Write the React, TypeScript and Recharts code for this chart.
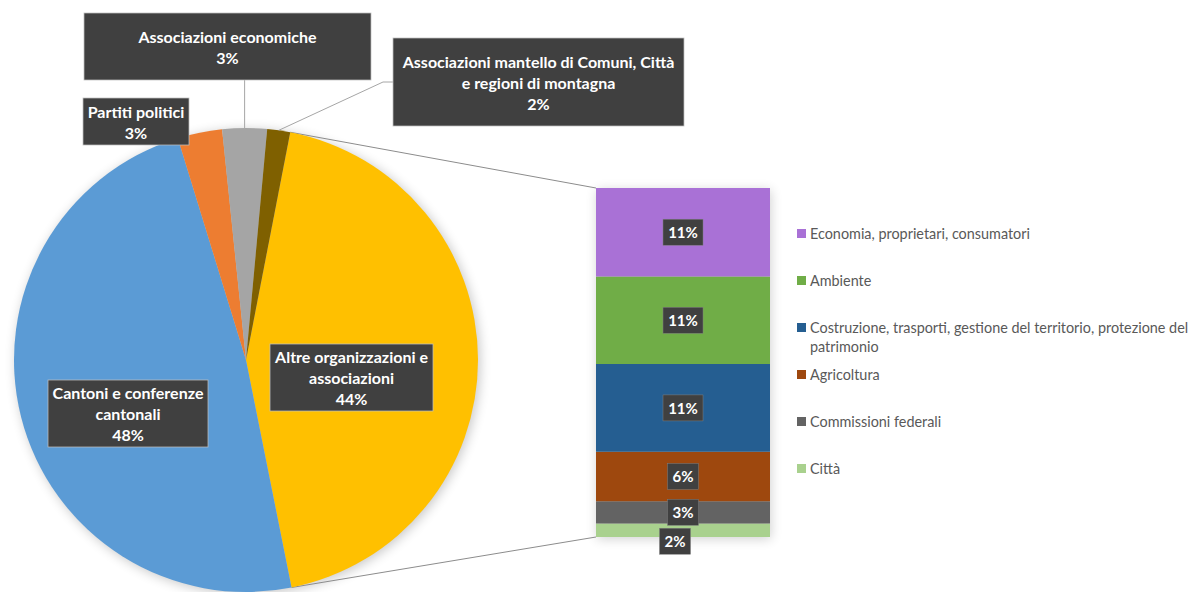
import React from 'react';
import { PieChart, Pie, Cell, BarChart, Bar, XAxis, YAxis, LabelList, Legend } from 'recharts';

// ---------- data ----------
const pieNames = [
  'Altre organizzazioni e associazioni',
  'Cantoni e conferenze cantonali',
  'Partiti politici',
  'Associazioni economiche',
  'Associazioni mantello di Comuni, Città e regioni di montagna',
];
const pieLabelLines = [
  ['Altre organizzazioni e', 'associazioni'],
  ['Cantoni e conferenze', 'cantonali'],
  ['Partiti politici'],
  ['Associazioni economiche'],
  ['Associazioni mantello di Comuni, Città', 'e regioni di montagna'],
];
const pieValues = [43.8, 48.4, 3.1, 3.1, 1.6];
const pieColors = ['#FFC000', '#5B9BD5', '#ED7D31', '#A5A5A5', '#7F6000'];

const barNames = [
  'Economia, proprietari, consumatori',
  'Ambiente',
  'Costruzione, trasporti, gestione del territorio, protezione del patrimonio',
  'Agricoltura',
  'Commissioni federali',
  'Città',
];
const barValues = [11.1, 11.0, 11.0, 6.2, 2.8, 1.7];
const barColors = ['#A971D6', '#70AD47', '#255E91', '#9E480E', '#636363', '#A9D18E'];

// ---------- layout ----------
const W = 1189;
const H = 592;
const PIE_CX = 246;
const PIE_CY = 360;
const PIE_R = 232;
const START = 79; // degrees, counter-clockwise from 3 o'clock
const BAR_LEFT = 596;
const BAR_TOP = 188;
const BAR_W = 174;
const BAR_H = 349;
const BAR_EXTRA = 30;
const FONT = 'Lato, "Open Sans", sans-serif';

// label boxes relative to the pie centre
const pieLabelBoxes = [
  { dx: 24, dy: -16, w: 163, h: 67, leader: 'none' },
  { dx: -198, dy: 20, w: 160, h: 67, leader: 'none' },
  { dx: -163, dy: -262, w: 106, h: 47, leader: 'none' },
  { dx: -162, dy: -347, w: 287, h: 67, leader: 'up' },
  { dx: 147, dy: -322, w: 291, h: 88, leader: 'left' },
];

const pieData = pieNames.map((name, i) => ({ name, value: pieValues[i] }));
const barRow: Record<string, any> = { name: 'Altre' };
barNames.forEach((n, i) => {
  barRow['s' + i] = barValues[i];
});
const barData = [barRow];
const barTotal = barValues.reduce((a, b) => a + b, 0);
const pieTotal = pieValues.reduce((a, b) => a + b, 0);

const RAD = Math.PI / 180;

const renderPieLabel = (props: any) => {
  const { cx, cy, midAngle, outerRadius, index, percent } = props;
  const box = pieLabelBoxes[index];
  const x = cx + box.dx;
  const y = cy + box.dy;
  const lines = [...pieLabelLines[index], `${Math.round(percent * 100)}%`];
  const lh = 21;
  const midY = y + box.h / 2;
  const startY = midY - ((lines.length - 1) * lh) / 2;
  const px = cx + outerRadius * Math.cos(-midAngle * RAD);
  const py = cy + outerRadius * Math.sin(-midAngle * RAD);
  let leader: any = null;
  if (box.leader === 'up') {
    leader = <polyline points={`${px},${py} ${px},${y + box.h}`} fill="none" stroke="#A6A6A6" strokeWidth={1} />;
  } else if (box.leader === 'left') {
    leader = (
      <polyline points={`${px},${py} ${x - 10},${midY} ${x},${midY}`} fill="none" stroke="#A6A6A6" strokeWidth={1} />
    );
  }
  return (
    <g key={'lab' + index}>
      {leader}
      <rect x={x} y={y} width={box.w} height={box.h} fill="#404040" stroke="#BFBFBF" strokeWidth={0.75} />
      {lines.map((t, i) => (
        <text
          key={i}
          x={x + box.w / 2}
          y={startY + i * lh}
          textAnchor="middle"
          dominantBaseline="central"
          fill="#FFFFFF"
          fontFamily={FONT}
          fontWeight="bold"
          fontSize={16}
        >
          {t}
        </text>
      ))}
    </g>
  );
};

const makeBarLabel = (idx: number) => (props: any) => {
  const { x, y, width, height, value } = props;
  const txt = `${Math.round((value / pieTotal) * 100)}%`;
  const bw = txt.length >= 3 ? 40 : 31;
  const bh = 26;
  let cx = x + width / 2;
  let cy = y + height / 2;
  if (height < 20) {
    cx -= 8;
    cy += 11;
  }
  return (
    <g key={'bl' + idx}>
      <rect x={cx - bw / 2} y={cy - bh / 2} width={bw} height={bh} fill="#404040" stroke="#7F7F7F" strokeWidth={0.5} />
      <text
        x={cx}
        y={cy}
        textAnchor="middle"
        dominantBaseline="central"
        fill="#FFFFFF"
        fontFamily={FONT}
        fontWeight="bold"
        fontSize={15}
      >
        {txt}
      </text>
    </g>
  );
};

const renderLegend = () => (
  <div style={{ position: 'relative', width: 593, height: BAR_H, fontFamily: FONT }}>
    {barNames.map((n, i) => (
      <div
        key={n}
        style={{
          position: 'absolute',
          left: 201,
          top: 46 + i * 47 - 10,
          width: 395,
          fontSize: 14.4,
          lineHeight: '19px',
          color: '#595959',
          display: 'flex',
          alignItems: 'flex-start',
        }}
      >
        <span
          style={{
            display: 'inline-block',
            width: 9,
            height: 9,
            background: barColors[i],
            marginTop: 5,
            marginRight: 4,
            flex: '0 0 auto',
          }}
        />
        <span style={{ width: 382 }}>{n}</span>
      </div>
    ))}
  </div>
);

export default function App() {
  const topPt = {
    x: PIE_CX + PIE_R * Math.cos(START * RAD),
    y: PIE_CY - PIE_R * Math.sin(START * RAD),
  };
  const endAng = START - (pieValues[0] / pieTotal) * 360;
  const botPt = {
    x: PIE_CX + PIE_R * Math.cos(endAng * RAD),
    y: PIE_CY - PIE_R * Math.sin(endAng * RAD),
  };
  return (
    <div style={{ position: 'absolute', left: 0, top: 0, width: W, height: H, background: '#fff', overflow: 'hidden' }}>
      <svg width={W} height={H} style={{ position: 'absolute', left: 0, top: 0 }}>
        <defs>
          <filter id="sh" x="-20%" y="-20%" width="140%" height="140%">
            <feGaussianBlur stdDeviation="6" />
          </filter>
        </defs>
        <circle cx={PIE_CX + 2} cy={PIE_CY + 2} r={PIE_R} fill="#000" opacity={0.22} filter="url(#sh)" />
        <rect x={BAR_LEFT + 1} y={BAR_TOP + 2} width={BAR_W} height={BAR_H} fill="#000" opacity={0.18} filter="url(#sh)" />
        <line x1={topPt.x} y1={topPt.y} x2={BAR_LEFT} y2={BAR_TOP} stroke="#8C8C8C" strokeWidth={1} />
        <line x1={botPt.x} y1={botPt.y} x2={BAR_LEFT} y2={BAR_TOP + BAR_H} stroke="#8C8C8C" strokeWidth={1} />
      </svg>
      <div style={{ position: 'absolute', left: 0, top: 0 }}>
        <PieChart width={W} height={H} margin={{ top: 0, right: 0, bottom: 0, left: 0 }}>
          <Pie
            data={pieData}
            dataKey="value"
            nameKey="name"
            cx={PIE_CX}
            cy={PIE_CY}
            outerRadius={PIE_R}
            startAngle={START}
            endAngle={START - 360}
            stroke="none"
            isAnimationActive={false}
            label={renderPieLabel}
            labelLine={false}
          >
            {pieData.map((d, i) => (
              <Cell key={d.name} fill={pieColors[i]} />
            ))}
          </Pie>
        </PieChart>
      </div>
      <div style={{ position: 'absolute', left: BAR_LEFT, top: BAR_TOP }}>
        <BarChart
          width={593}
          height={BAR_H + BAR_EXTRA}
          data={barData}
          margin={{ top: 0, right: 593 - BAR_W, bottom: BAR_EXTRA, left: 0 }}
          barCategoryGap={0}
          barGap={0}
        >
          <XAxis dataKey="name" hide />
          <YAxis hide domain={[0, barTotal]} />
          {barNames
            .map((n, i) => i)
            .reverse()
            .map((i) => (
              <Bar key={i} dataKey={'s' + i} name={barNames[i]} stackId="a" fill={barColors[i]} isAnimationActive={false}>
                <LabelList dataKey={'s' + i} content={makeBarLabel(i)} />
              </Bar>
            ))}
          <Legend
            layout="horizontal"
            align="center"
            verticalAlign="middle"
            content={renderLegend}
            wrapperStyle={{ position: 'absolute', left: 0, top: 0, width: 593, height: BAR_H }}
          />
        </BarChart>
      </div>
    </div>
  );
}
